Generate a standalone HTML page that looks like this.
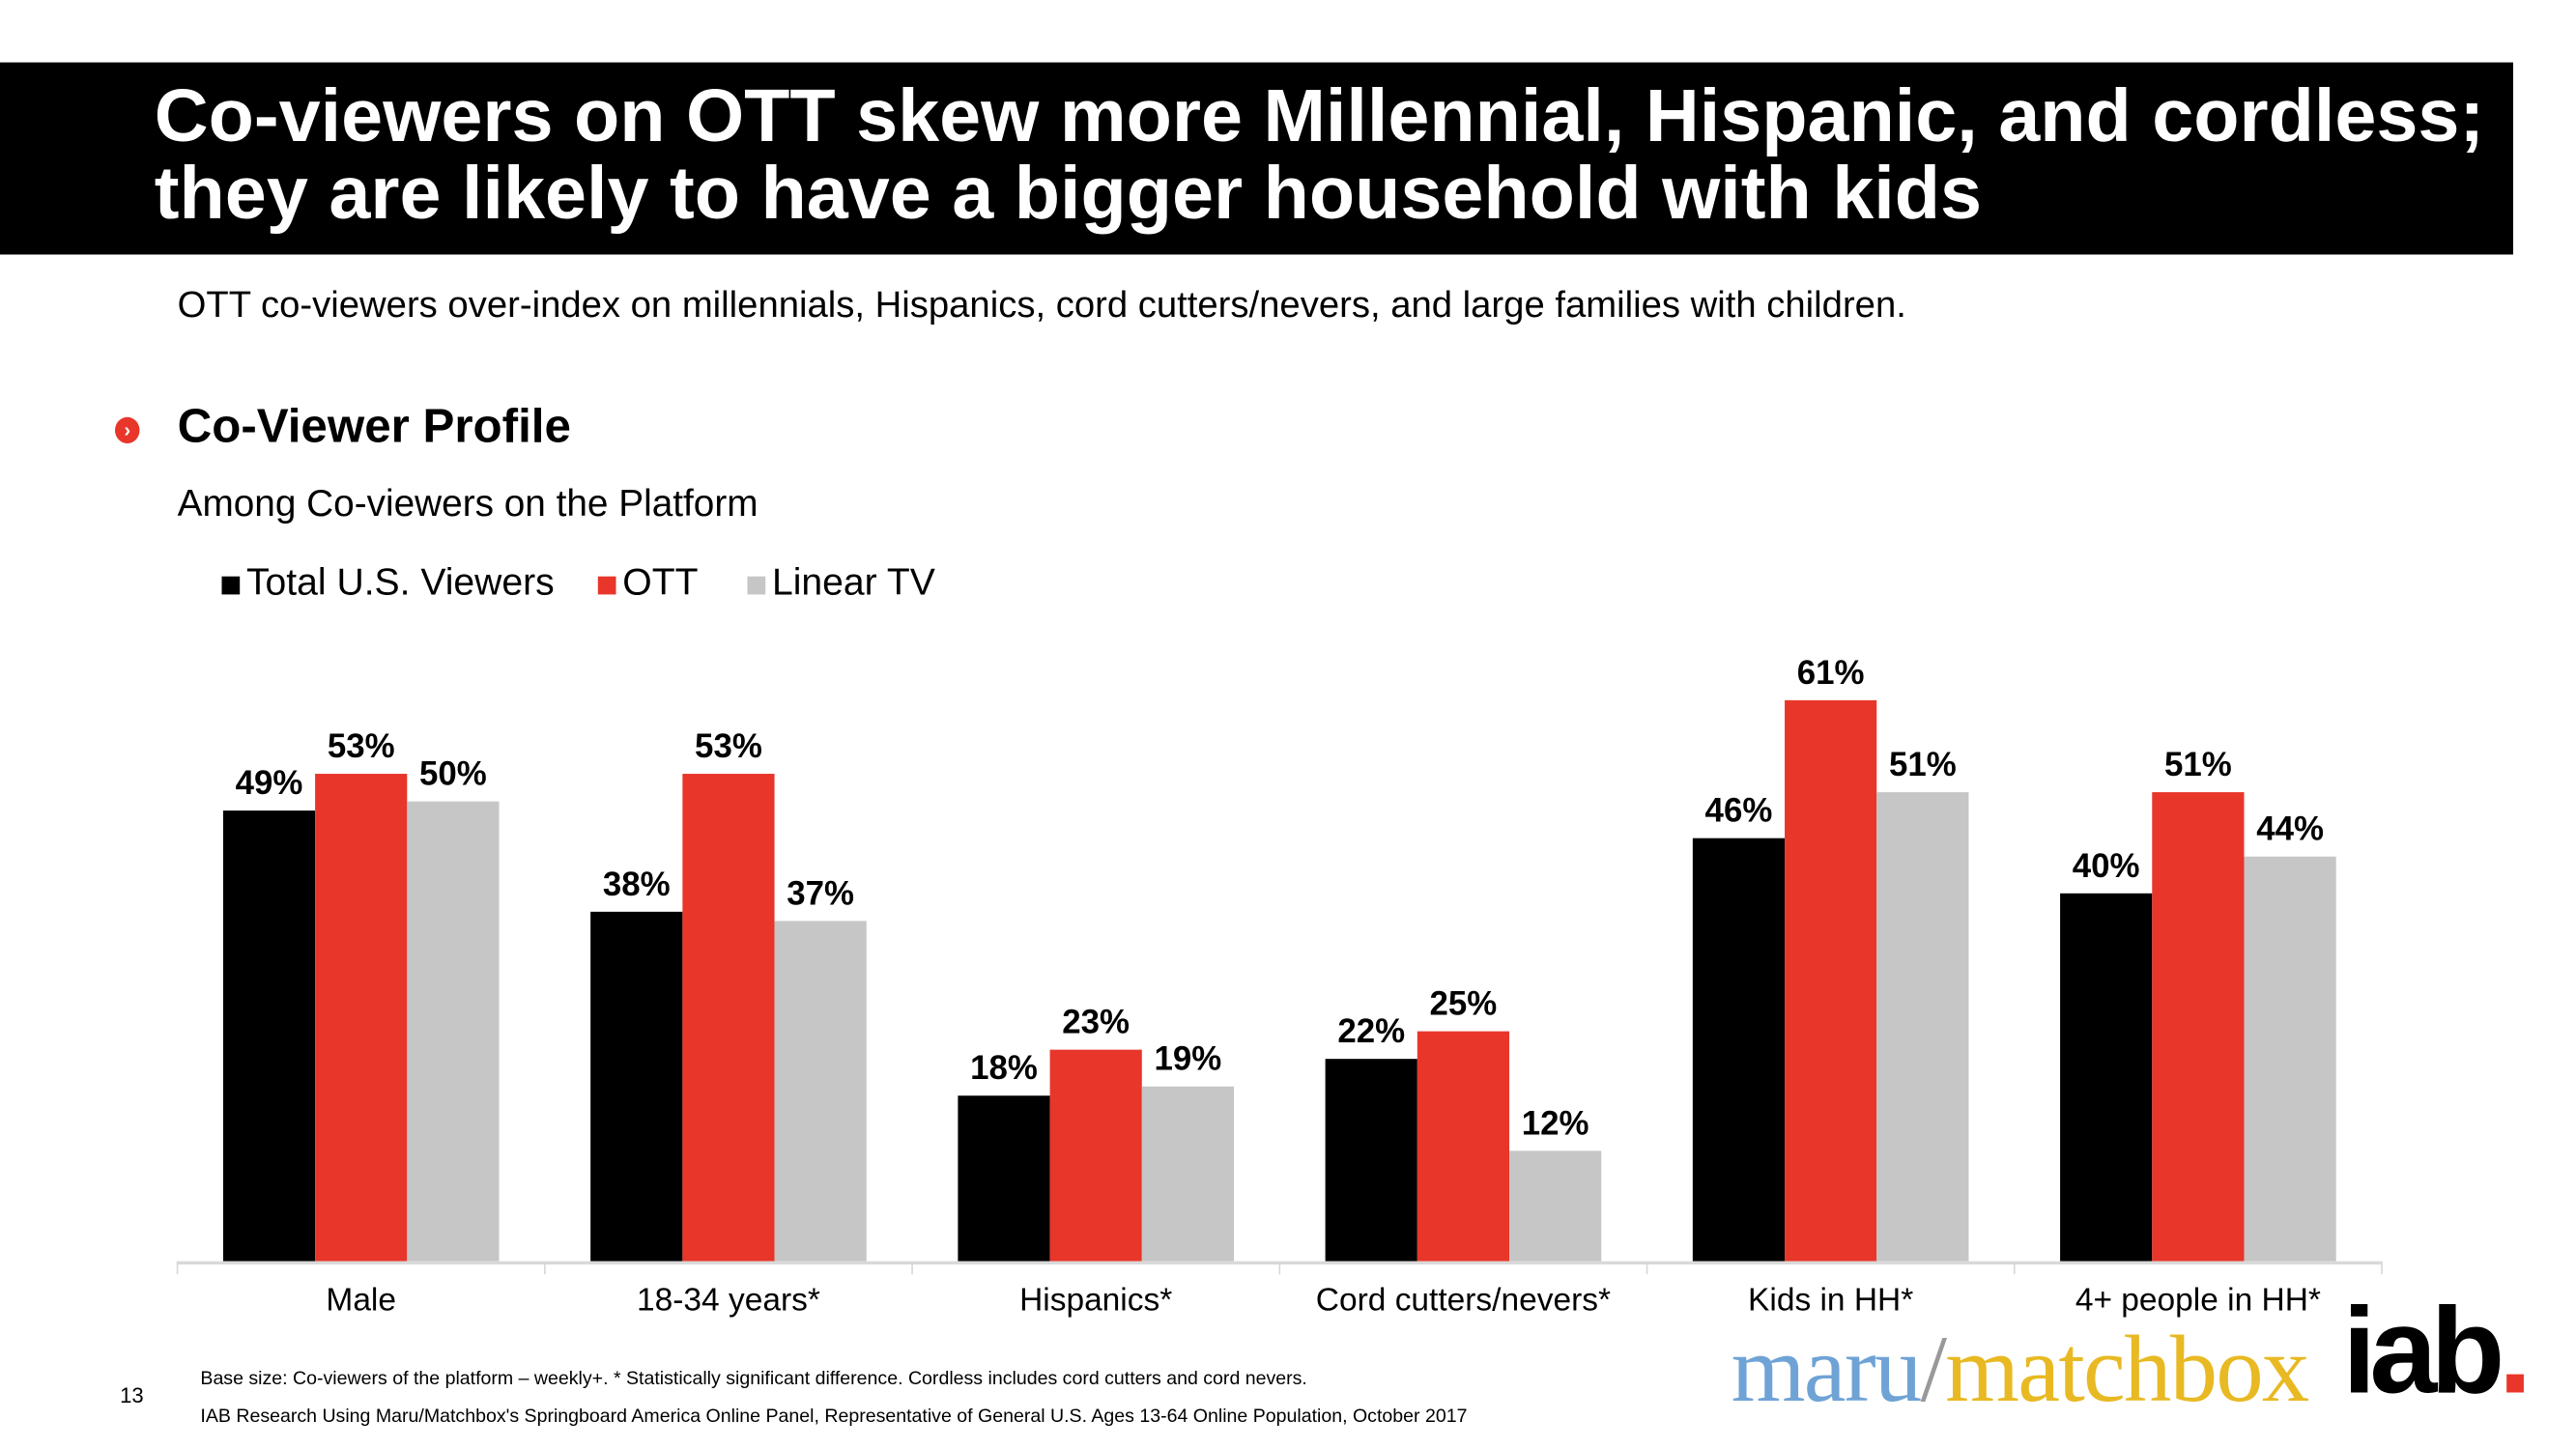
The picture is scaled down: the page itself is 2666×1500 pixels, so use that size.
<!DOCTYPE html>
<html><head><meta charset="utf-8"><style>
html,body{margin:0;padding:0;background:#fff;}
body{width:2666px;height:1500px;overflow:hidden;position:relative;}
#s{position:absolute;left:0;top:0;width:1552px;height:882px;transform-origin:0 0;transform:scale(1.7);font-family:"Liberation Sans",Arial,sans-serif;color:#000;}
.a{position:absolute;white-space:nowrap;}
</style></head><body>
<div id="s">
<div class="a" style="left:0;top:38px;width:1530px;height:117px;background:#000;"></div>
<div class="a" style="left:94px;top:47px;color:#fff;font-weight:bold;font-size:45.5px;line-height:47px;">Co-viewers on OTT skew more Millennial, Hispanic, and cordless;<br>they are likely to have a bigger household with kids</div>
<div class="a" style="left:108px;top:173px;font-size:22.5px;">OTT co-viewers over-index on millennials, Hispanics, cord cutters/nevers, and large families with children.</div>
<div class="a" style="left:70px;top:254px;width:15px;height:16px;border-radius:50%;background:#e8362a;color:#fff;font-size:12px;font-weight:bold;line-height:16px;text-align:center;">›</div>
<div class="a" style="left:108px;top:244px;font-size:29px;font-weight:bold;">Co-Viewer Profile</div>
<div class="a" style="left:108px;top:293px;font-size:22.8px;">Among Co-viewers on the Platform</div>
<div class="a" style="left:135px;top:341px;font-size:23px;"><span style="display:inline-block;width:11px;height:11px;background:#000;margin-right:4px;"></span>Total U.S. Viewers</div>
<div class="a" style="left:364px;top:341px;font-size:23px;"><span style="display:inline-block;width:11px;height:11px;background:#e8362a;margin-right:4px;"></span>OTT</div>
<div class="a" style="left:455px;top:341px;font-size:23px;"><span style="display:inline-block;width:11px;height:11px;background:#c6c6c6;margin-right:4px;"></span>Linear TV</div>
<svg class="a" id="chart" style="left:0;top:0;" width="1552" height="882"></svg>
<div class="a" style="left:73px;top:842px;font-size:13px;">13</div>
<div class="a" style="left:122px;top:834px;font-size:11.5px;">Base size: Co-viewers of the platform – weekly+. * Statistically significant difference. Cordless includes cord cutters and cord nevers.</div>
<div class="a" style="left:122px;top:857px;font-size:11.5px;">IAB Research Using Maru/Matchbox's Springboard America Online Panel, Representative of General U.S. Ages 13-64 Online Population, October 2017</div>
<div class="a" style="left:1054px;top:800px;font-family:'Liberation Serif',serif;font-size:58px;letter-spacing:-1px;"><span style="color:#6fa3d6;">maru</span><span style="color:#999;">/</span><span style="color:#e8b923;">matchbox</span></div>
<div class="a" style="left:1426px;top:780px;font-size:74px;font-weight:bold;letter-spacing:-4px;">iab<span style="color:#e8362a;">.</span></div>
</div>
<script>
const categories=["Male","18-34 years*","Hispanics*","Cord cutters/nevers*","Kids in HH*","4+ people in HH*"];
const totalVals=[49,38,18,22,46,40];
const ottVals=[53,53,23,25,61,51];
const linearVals=[50,37,19,12,51,44];
const seriesNames=["total","ott","linear"];
const colors=["#000","#e8362a","#c6c6c6"];
const svg=document.getElementById('chart');
const NS="http://www.w3.org/2000/svg";
const x0=108,x1=1450,base=768,pxPer=5.6;
const gw=(x1-x0)/categories.length,bw=56;
function y(v){return base-v*pxPer;}
function mk(t,a){const e=document.createElementNS(NS,t);for(const k in a)e.setAttribute(k,a[k]);svg.appendChild(e);return e;}
const series=[totalVals,ottVals,linearVals];
categories.forEach((c,i)=>{
  const gx=x0+i*gw+(gw-3*bw)/2;
  series.forEach((vals,j)=>{
    const v=vals[i];
    const r=mk('rect',{x:gx+j*bw,y:y(v),width:bw,height:v*pxPer,fill:colors[j]});
    
    
    const t=mk('text',{x:gx+j*bw+bw/2,y:y(v)-10,'text-anchor':'middle','font-size':20.5,'font-weight':'bold','font-family':'Liberation Sans, sans-serif'});
    t.textContent=v+'%';
    
    
  });
  const l=mk('text',{x:x0+i*gw+gw/2,y:798,'text-anchor':'middle','font-size':19.7,'font-family':'Liberation Sans, sans-serif'});
  l.textContent=c;
  
  
});
const ax=mk('line',{x1:x0,x2:x1,y1:base+1,y2:base+1,stroke:'#d9d9d9','stroke-width':2});


for(let i=0;i<=categories.length;i++){
  const tk=mk('line',{x1:x0+i*gw,x2:x0+i*gw,y1:base,y2:base+8,stroke:'#d9d9d9','stroke-width':1});
  
  
}
</script>
</body></html>
